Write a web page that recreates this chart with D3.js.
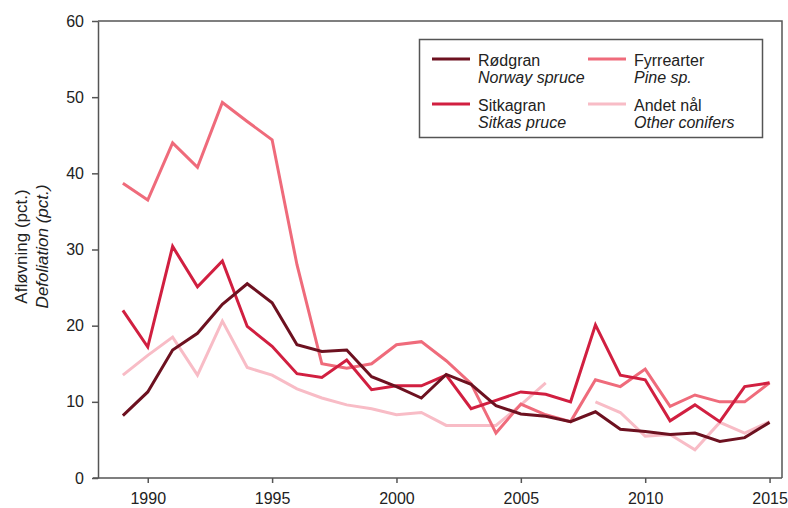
<!DOCTYPE html>
<html>
<head>
<meta charset="utf-8">
<script src="https://cdn.jsdelivr.net/npm/d3@7"></script>
<style>
  body { margin: 0; background: #fff; }
  svg { display: block; font-family: "Liberation Sans", Arial, sans-serif; }
</style>
</head>
<body>
<svg id="chart" width="788" height="508"></svg>
<script>
const years = d3.range(1989, 2016);
const xTicks = [1990, 1995, 2000, 2005, 2010, 2015];
const yTicks = [0, 10, 20, 30, 40, 50, 60];

const rodgran = [8.2, 11.3, 16.8, 19.0, 22.8, 25.5, 23.0, 17.5, 16.6, 16.8, 13.3, 12.0, 10.5, 13.6, 12.3, 9.5, 8.4, 8.1, 7.4, 8.7, 6.4, 6.1, 5.7, 5.9, 4.8, 5.3, 7.3];
const sitkagran = [22.0, 17.2, 30.4, 25.1, 28.5, 19.9, 17.3, 13.7, 13.2, 15.5, 11.6, 12.1, 12.1, 13.5, 9.1, 10.2, 11.3, 11.0, 10.0, 20.1, 13.5, 12.9, 7.5, 9.6, 7.4, 12.0, 12.5];
const fyrrearter = [38.7, 36.5, 44.0, 40.8, 49.3, 46.8, 44.4, 28.0, 15.0, 14.4, 15.0, 17.5, 17.9, 15.4, 12.4, 5.9, 9.7, 8.3, 7.4, 12.9, 12.0, 14.3, 9.4, 10.9, 10.0, 10.0, 12.5];
const andetNaal = [13.5, 16.1, 18.5, 13.5, 20.6, 14.5, 13.5, 11.7, 10.5, 9.6, 9.1, 8.3, 8.6, 6.9, 6.9, 6.9, 9.6, 12.5, null, 10.0, 8.6, 5.5, 5.7, 3.7, 7.3, 5.9, 7.4];

const seriesNames = ["Rødgran", "Sitkagran", "Fyrrearter", "Andet nål"];
const seriesNamesEn = ["Norway spruce", "Sitkas pruce", "Pine sp.", "Other conifers"];
const seriesValues = [rodgran, sitkagran, fyrrearter, andetNaal];
const colors = ["#6d1120", "#d11f40", "#ef6b7b", "#f8bcc6"];
const drawOrder = [3, 2, 1, 0];

const svg = d3.select("#chart");
const pLeft = 98, pRight = 782, pTop = 21, pBottom = 478;
const axisColor = "#555";

const x = d3.scaleLinear().domain([1988, 2015.5]).range([pLeft, pRight]);
const y = d3.scaleLinear().domain([0, 60]).range([pBottom, pTop]);

// frame (top & right)
svg.append("path")
  .attr("d", `M${pLeft},${pTop}H${pRight}V${pBottom}`)
  .attr("fill", "none").attr("stroke", axisColor).attr("stroke-width", 1.5);

// lines
const line = d3.line()
  .defined(d => d.v !== null)
  .x(d => x(d.year)).y(d => y(d.v));

drawOrder.forEach(i => {
  const data = years.map((yr, k) => ({year: yr, v: seriesValues[i][k]}));
  svg.append("path")
    .datum(data)
    .attr("d", line)
    .attr("fill", "none")
    .attr("stroke", colors[i])
    .attr("stroke-width", 3)
    .attr("stroke-linejoin", "miter");
});

// axes
const xAxis = svg.append("g")
  .attr("transform", `translate(0,${pBottom})`)
  .call(d3.axisBottom(x).tickValues(xTicks).tickFormat(d3.format("d")).tickSize(5).tickPadding(10).tickSizeOuter(0));
const yAxis = svg.append("g")
  .attr("transform", `translate(${pLeft},0)`)
  .call(d3.axisLeft(y).tickValues(yTicks).tickSize(6).tickPadding(8).tickSizeOuter(0));

[xAxis, yAxis].forEach(g => {
  g.select(".domain").attr("stroke", axisColor).attr("stroke-width", 1.5);
  g.selectAll(".tick line").attr("stroke", axisColor).attr("stroke-width", 1.5);
  g.selectAll(".tick text").attr("fill", "#222").style("font-size", "16px")
    .style("font-family", "'Liberation Sans', Arial, sans-serif");
});
xAxis.select(".domain").attr("d", `M${pLeft - 5},0H${pRight}`);

// y-axis title
const yt = svg.append("text")
  .attr("transform", `translate(27,${(pTop + pBottom) / 2 - 3}) rotate(-90)`)
  .attr("text-anchor", "middle")
  .attr("fill", "#222")
  .style("font-size", "17px");
yt.append("tspan").attr("x", 0).attr("dy", 0).text("Afløvning (pct.)");
yt.append("tspan").attr("x", 0).attr("dy", 21).style("font-style", "italic").text("Defoliation (pct.)");

// legend
const legend = svg.append("g");
legend.append("rect")
  .attr("x", 419.5).attr("y", 39.5).attr("width", 343).attr("height", 98)
  .attr("fill", "#fff").attr("stroke", axisColor).attr("stroke-width", 1.5);

const legendPos = [
  {lx: 432, ly: 59},
  {lx: 432, ly: 104},
  {lx: 588, ly: 59},
  {lx: 588, ly: 104}
];
seriesNames.forEach((name, i) => {
  const p = legendPos[i];
  legend.append("line")
    .attr("x1", p.lx).attr("x2", p.lx + 38)
    .attr("y1", p.ly).attr("y2", p.ly)
    .attr("stroke", colors[i]).attr("stroke-width", 3);
  legend.append("text")
    .attr("x", p.lx + 46).attr("y", p.ly + 7)
    .attr("fill", "#222").style("font-size", "16px")
    .text(name);
  legend.append("text")
    .attr("x", p.lx + 46).attr("y", p.ly + 24)
    .attr("fill", "#222").style("font-size", "16px").style("font-style", "italic")
    .text(seriesNamesEn[i]);
});
</script>
</body>
</html>
